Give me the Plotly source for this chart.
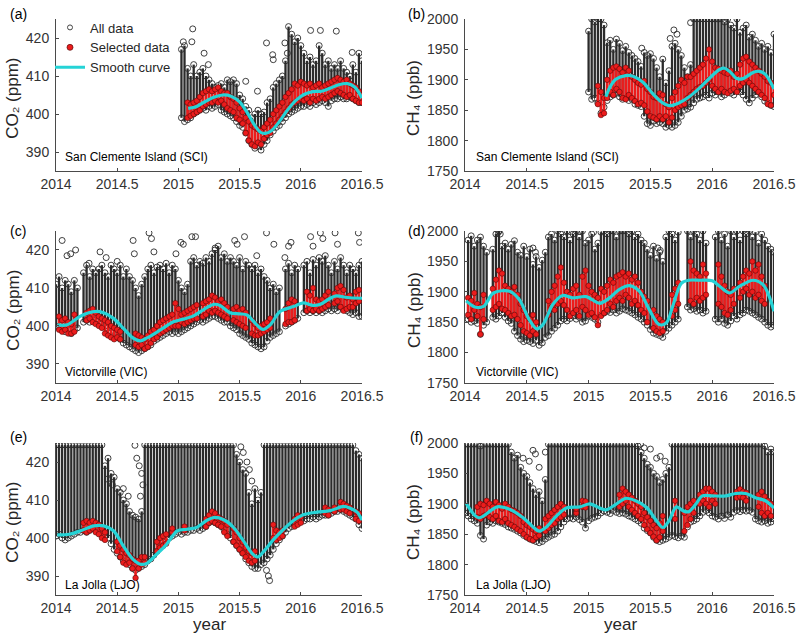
import plotly.graph_objects as go

N = None

# ---------------- shared time grid (decimal year, bins of 0.025 yr) ----------------
years = [2014.0, 2014.025, 2014.05, 2014.075, 2014.1, 2014.125, 2014.15, 2014.175, 2014.2, 2014.225,
         2014.25, 2014.275, 2014.3, 2014.325, 2014.35, 2014.375, 2014.4, 2014.425, 2014.45, 2014.475,
         2014.5, 2014.525, 2014.55, 2014.575, 2014.6, 2014.625, 2014.65, 2014.675, 2014.7, 2014.725,
         2014.75, 2014.775, 2014.8, 2014.825, 2014.85, 2014.875, 2014.9, 2014.925, 2014.95, 2014.975,
         2015.0, 2015.025, 2015.05, 2015.075, 2015.1, 2015.125, 2015.15, 2015.175, 2015.2, 2015.225,
         2015.25, 2015.275, 2015.3, 2015.325, 2015.35, 2015.375, 2015.4, 2015.425, 2015.45, 2015.475,
         2015.5, 2015.525, 2015.55, 2015.575, 2015.6, 2015.625, 2015.65, 2015.675, 2015.7, 2015.725,
         2015.75, 2015.775, 2015.8, 2015.825, 2015.85, 2015.875, 2015.9, 2015.925, 2015.95, 2015.975,
         2016.0, 2016.025, 2016.05, 2016.075, 2016.1, 2016.125, 2016.15, 2016.175, 2016.2, 2016.225,
         2016.25, 2016.275, 2016.3, 2016.325, 2016.35, 2016.375, 2016.4, 2016.425, 2016.45, 2016.475,
         2016.5]

x_ticks = [2014, 2014.5, 2015, 2015.5, 2016, 2016.5]
x_ticktext = ["2014", "2014.5", "2015", "2015.5", "2016", "2016.5"]
co2_ticks = [390, 400, 410, 420]
ch4_ticks = [1750, 1800, 1850, 1900, 1950, 2000]

# ================= (a) CO2, San Clemente Island =================
a_hi = [N, N, N, N, N, N, N, N, N, N,
        N, N, N, N, N, N, N, N, N, N,
        N, N, N, N, N, N, N, N, N, N,
        N, N, N, N, N, N, N, N, N, N,
        N, 417, 418, 412, 410, 413, 410, 411, 412, 410,
        409, 408, 407, 407.5, 408, 407, 409, 408.5, 409, 408,
        405, 404, 402, 401, 399, 400, 401, 400, 400.5, 403,
        404, 407, 408, 409, 410, 414, 423, 421, 419, 420,
        418, 416, 414, 415, 413, 414, 418, 416, 413, 414,
        412, 413, 412, 414, 412, 411, 410, 413, 411, 416,
        414]
a_lo = [N, N, N, N, N, N, N, N, N, N,
        N, N, N, N, N, N, N, N, N, N,
        N, N, N, N, N, N, N, N, N, N,
        N, N, N, N, N, N, N, N, N, N,
        N, 399, 398, 398.5, 399, 400, 400.5, 401, 401.5, 401,
        402, 401.5, 402, 402.5, 401, 400.5, 400, 399.5, 399, 398,
        397, 396.5, 395, 393, 392, 391, 391.5, 390.5, 392, 393,
        394.5, 395.5, 396.5, 397, 398, 399, 400, 400.5, 401, 401.5,
        402, 402, 402.5, 402, 403, 402.5, 403, 403.5, 403, 402,
        403.5, 404, 404, 404.5, 404, 404, 404.5, 404, 403.5, 403,
        403]
a_sel_lo = [N, N, N, N, N, N, N, N, N, N,
            N, N, N, N, N, N, N, N, N, N,
            N, N, N, N, N, N, N, N, N, N,
            N, N, N, N, N, N, N, N, N, N,
            N, N, N, 399, 399.5, 400, 400.5, 401, 402, 402.5,
            403, 403, 403.5, 403, 403.5, 402.5, 401.5, 401, 400.5, 399,
            398.5, 397.5, 395, 393, 392, 391.5, 392.5, 392, 393.5, 394.5,
            395, 396.5, 397.5, 398.5, 399.5, 400.5, 401.5, 402.5, 403, 403.5,
            404, 403.5, 404, 403, 404, 403.5, 404, 404.5, 404, 404.5,
            405, 405.5, 406, 405.5, 405, 404.5, 405, 404, 403.5, 403,
            403]
a_sel_hi = [N, N, N, N, N, N, N, N, N, N,
            N, N, N, N, N, N, N, N, N, N,
            N, N, N, N, N, N, N, N, N, N,
            N, N, N, N, N, N, N, N, N, N,
            N, N, N, 403, 402.5, 403, 403.5, 404.5, 405.5, 406,
            406.5, 406, 406.5, 407, 406, 405.5, 405.5, 404.5, 404, 403,
            401.5, 400.5, 399, 398, 397, 396.5, 396, 395.5, 396.5, 397.5,
            398.5, 400, 401, 402, 403, 404.5, 405.5, 406.5, 408, 407.5,
            408.5, 408, 407.5, 408, 407, 407.5, 408, 407, 407.5, 408,
            408.5, 409, 409.5, 409, 408.5, 409, 408, 407.5, 407, 406,
            405]
a_out_t = [2015.04, 2015.117, 2015.11, 2015.21, 2015.245, 2015.55, 2015.646, 2015.72,
           2015.77, 2015.775, 2015.87, 2015.89, 2016.08, 2016.16, 2016.29, 2016.42]
a_out_y = [419, 422.4, 419, 416, 413, 408.6, 406, 418.7,
           415.6, 414.3, 418.7, 416, 422, 422, 421.8, 416.2]
a_curve_t = [2015.08, 2015.15, 2015.22, 2015.29, 2015.36, 2015.43, 2015.50, 2015.56, 2015.62,
             2015.67, 2015.71, 2015.76, 2015.82, 2015.89, 2015.96, 2016.03, 2016.10, 2016.17,
             2016.24, 2016.31, 2016.38, 2016.44, 2016.50]
a_curve_y = [401.5, 402.0, 403.3, 404.4, 405.0, 404.7, 403.2, 400.5, 397.2,
             395.2, 394.9, 395.6, 397.8, 401.0, 403.6, 405.2, 405.9, 406.0,
             406.8, 407.7, 408.0, 407.1, 404.2]

# ================= (b) CH4, San Clemente Island =================
b_hi = [N, N, N, N, N, N, N, N, N, N,
        N, N, N, N, N, N, N, N, N, N,
        N, N, N, N, N, N, N, N, N, N,
        N, N, N, N, N, N, N, N, N, N,
        1980, 2000, 1995, 2000, 2000, 1990, 1961, 1965, 1950, 1967,
        1960, 1948, 1955, 1945, 1940, 1935, 1930, 1922, 1945, 1940,
        1943, 1935, 1920, 1905, 1934, 1895, 1915, 1955, 1960, 1950,
        1940, 1920, 1905, 1925, 2000, 2000, 2000, 2000, 2000, 2000,
        2000, 2000, 2000, 2000, 1995, 2000, 1990, 1985, 2000, 1978,
        1985, 1990, 1970, 1975, 1965, 1955, 1960, 1950, 1955, 1945,
        1975]
b_lo = [N, N, N, N, N, N, N, N, N, N,
        N, N, N, N, N, N, N, N, N, N,
        N, N, N, N, N, N, N, N, N, N,
        N, N, N, N, N, N, N, N, N, N,
        1880, 1868, 1870, 1862, 1845, 1855, 1866, 1872, 1875, 1878,
        1872, 1868, 1870, 1866, 1868, 1860, 1858, 1856, 1840, 1828,
        1825, 1832, 1828, 1830, 1828, 1822, 1825, 1822, 1825, 1830,
        1840, 1850, 1852, 1855, 1862, 1868, 1870, 1872, 1875, 1870,
        1878, 1875, 1880, 1872, 1875, 1880, 1878, 1875, 1882, 1880,
        1875, 1868, 1862, 1870, 1875, 1880, 1872, 1865, 1862, 1858,
        1856]
b_sel_lo = [N, N, N, N, N, N, N, N, N, N,
            N, N, N, N, N, N, N, N, N, N,
            N, N, N, N, N, N, N, N, N, N,
            N, N, N, N, N, N, N, N, N, N,
            N, N, N, 1860, 1842, 1845, 1870, 1880, 1875, 1885,
            1880, 1870, 1868, 1875, 1870, 1865, 1860, 1862, 1858, 1848,
            1840, 1838, 1835, 1840, 1835, 1840, 1830, 1838, 1850, 1855,
            1858, 1860, 1870, 1875, 1880, 1885, 1888, 1890, 1895, 1900,
            1890, 1885, 1880, 1885, 1880, 1878, 1882, 1885, 1880, 1890,
            1895, 1900, 1895, 1890, 1885, 1880, 1875, 1870, 1860, 1858,
            1875]
b_sel_hi = [N, N, N, N, N, N, N, N, N, N,
            N, N, N, N, N, N, N, N, N, N,
            N, N, N, N, N, N, N, N, N, N,
            N, N, N, N, N, N, N, N, N, N,
            N, N, N, 1890, 1880, 1870, 1900, 1915, 1920, 1922,
            1918, 1912, 1920, 1915, 1905, 1900, 1895, 1892, 1898, 1885,
            1880, 1872, 1870, 1878, 1875, 1860, 1855, 1870, 1880, 1890,
            1900, 1895, 1905, 1905, 1910, 1915, 1920, 1925, 1935, 1950,
            1930, 1920, 1918, 1915, 1912, 1910, 1915, 1905, 1910, 1925,
            1935, 1938, 1930, 1925, 1920, 1915, 1910, 1905, 1898, 1895,
            1890]
b_out_t = [2015.43, 2015.66, 2015.69, 2015.715, 2015.825]
b_out_y = [1952, 1968, 1982, 1975, 1994]
b_curve_t = [2015.14, 2015.17, 2015.22, 2015.30, 2015.36, 2015.44, 2015.52, 2015.60, 2015.65,
             2015.73, 2015.82, 2015.90, 2015.98, 2016.06, 2016.10, 2016.14, 2016.20, 2016.25,
             2016.33, 2016.38, 2016.43, 2016.50]
b_curve_y = [1872, 1887, 1901, 1907, 1906, 1896, 1877, 1862, 1857.5,
             1862, 1873, 1887, 1903, 1917, 1919, 1914, 1902, 1902,
             1912, 1914, 1909, 1885]

# ================= (c) CO2, Victorville =================
c_hi = [411, 413, 410, 412, 411, 409, 412, 410, N, 414,
        416, 413, 415, 414, 415, 416, 414, 413, 416, 415,
        414, 416, 413, 415, 413, 412, 410, 408, 411, 413,
        415, 416, 414, 415.5, 416, 415, 416.5, 414, 416, 415,
        412, 410, 409, 411, 417, 418, 416, 417, 416.5, 418,
        417, 419, 420, 421, 418, 419, 417, 418, 417, 416,
        418, 415, 417, 416, 415, 416, 414, 415, 413, 412,
        410, 411, 409, 410, N, 415, 416.5, 414, 416, 415,
        N, 416, 417, 414, 417.5, 416, 418, 417, 418.5, 416,
        414, 417, 415, 418, 416, 414, 416, 415, 414, 416,
        417]
c_lo = [400, 399.5, 399, 398.5, 399, 398, 399, 399.5, N, 401,
        401.5, 401, 402, 401.5, 400.5, 401, 400, 399.5, 398.5, 397.5,
        397, 396.5, 395.5, 395, 394.5, 394, 393.5, 393, 393.5, 394,
        394.5, 395, 396, 396.5, 397, 397.5, 398, 398.5, 398, 398.5,
        398, 398.5, 399, 399.5, 400, 400.5, 401, 401.5, 401, 401.5,
        402, 402.5, 402.5, 402, 401.5, 401, 401, 400, 399.5, 399,
        398, 397.5, 397, 396.5, 395.5, 395, 394.5, 394, 394.5, 396,
        397, 397.5, 398, 398.5, N, 400, 400.5, 401, 401.5, 402,
        N, 403.5, 404, 403.5, 404, 403.5, 404, 403.5, 404, 404.5,
        404, 404.5, 404, 405, 404.5, 404, 403.5, 403, 403.5, 402.5,
        402.5]
c_sel_lo = [N, 399, 398.5, 399, 398, 398, 398.5, N, N, N,
            401.5, 402, 401, 400.5, 400, 399.5, 398, 397.5, 397, 396.5,
            397, 396.5, N, N, N, N, 395, 394.5, 395, 394,
            394.5, 395.5, 396.5, 397, 398, 398.5, 399, 399.5, 400, 400,
            400, 401, 400.5, 401, 401.5, 402, 402, N, 402.5, 403,
            404, 403.5, 404, 403.5, 403, 402.5, 402, N, 401.5, 401,
            400.5, 400, 399.5, N, 398, 397.5, 397.5, 398, 398.5, 399,
            399.5, N, N, N, N, 400.5, 401, 401, 401.5, N,
            N, N, 404, 404.5, 404, 404.5, 404, 404.5, 405, 405.5,
            N, 406, 406.5, 405, 404, 404.5, 405, 405, 406, 406.5,
            N]
c_sel_hi = [N, 402.5, 401.5, 402, 401, 400.5, 403, N, N, N,
            403.5, 404, 404.5, 403.5, 402.5, 402, 401.5, 401, 400, 399.5,
            399, 398.5, N, N, N, N, 398, 397.5, 397, 396.5,
            397.5, 398.5, 399, 400, 401, 401.5, 402, 402.5, 403, 406,
            404.5, 403, 403.5, 404, 404.5, 405, 405.5, N, 406, 406.5,
            407, 408, 407.5, 406.5, 407, 406, 405, N, 404.5, 405,
            404, 404.5, 403.5, N, 401.5, 400.5, 399.5, 400, 400.5, 401,
            402, N, N, N, N, 404.5, 406, 407, 406.5, N,
            N, N, 409, 408, 410, 407, 406.5, 407, 408, 409,
            N, 408.5, 410, 410.5, 409.5, 407.5, 408, 407, 409, 409.5,
            N]
c_out_t = [2014.05, 2014.09, 2014.12, 2014.16, 2014.27, 2014.36, 2014.41, 2014.50, 2014.63,
           2014.64, 2014.76, 2014.78, 2014.80, 2014.98, 2015.02, 2015.04, 2015.11, 2015.14,
           2015.30, 2015.46, 2015.48, 2015.54, 2015.64, 2015.72, 2015.78, 2015.87, 2015.90,
           2015.92, 2016.08, 2016.10, 2016.16, 2016.18, 2016.28, 2016.30, 2016.47, 2016.48]
c_out_y = [422.5, 418.5, 419, 420, 416.5, 419.5, 418, 417, 422.5,
           419, 424.5, 423, 419.5, 419, 422, 421.5, 423.5, 423.5,
           420.5, 422.5, 421.5, 423.5, 418.5, 424.5, 421.5, 418, 421,
           422, 423.5, 421, 424.5, 423, 424.5, 421.5, 424.5, 422]
c_curve_t = [2014.01, 2014.09, 2014.20, 2014.31, 2014.39, 2014.47, 2014.55, 2014.63, 2014.69,
             2014.74, 2014.85, 2014.96, 2015.04, 2015.12, 2015.20, 2015.29, 2015.34, 2015.42,
             2015.50, 2015.56, 2015.64, 2015.69, 2015.75, 2015.83, 2015.94, 2016.02, 2016.10,
             2016.16, 2016.24, 2016.29, 2016.38, 2016.50]
c_curve_y = [400.3, 400.3, 402.6, 403.8, 403.5, 402.0, 399.4, 396.8, 396.1,
             396.8, 398.9, 401.1, 401.8, 402.6, 404.2, 405.7, 405.4, 403.5,
             403.2, 402.9, 400.3, 399.1, 400.3, 403.8, 405.1, 406.1, 405.4,
             405.7, 407.3, 407.9, 407.5, 407.3]

# ================= (d) CH4, Victorville =================
d_hi = [N, 1985, 1992, 1975, 1985, 1990, 1975, 1965, N, 1970,
        1995, 2000, 1975, 1980, 1970, 1978, 1984, 1965, 1960, 1975,
        1958, 1970, 1945, 1958, 1940, 1952, 1965, 1990, 1995, 1985,
        2000, 1995, 1990, 2000, 1985, 1995, 2000, 1990, 2000, 1980,
        1985, 1995, 1970, 1980, 1998, 2000, 1995, 2000, 2000, 1990,
        2000, 2000, 2000, 1995, 2000, 1990, 1995, 1985, 1980, 1970,
        1960, 1975, 1955, 1965, 1950, 1990, 2000, 1995, 1985, 1998,
        N, N, 2000, 1990, 2000, 1995, 1985, 2000, 1980, N,
        N, 1990, 2000, 1985, 1995, 1975, 2000, 1990, 2000, 1985,
        2000, 1995, 2000, 1990, 1998, 1980, 1995, 1985, 1975, 1970,
        1965]
d_lo = [N, 1855, 1850, 1852, 1848, 1830, 1845, 1850, N, 1858,
        1855, 1860, 1865, 1858, 1852, 1848, 1835, 1828, 1822, 1818,
        1820, 1818, 1815, 1820, 1812, 1816, 1825, 1828, 1835, 1840,
        1845, 1852, 1855, 1852, 1856, 1860, 1855, 1858, 1850, 1852,
        1860, 1858, 1855, 1850, 1862, 1865, 1868, 1866, 1870, 1865,
        1868, 1872, 1870, 1868, 1865, 1862, 1858, 1855, 1850, 1845,
        1838, 1832, 1830, 1828, 1825, 1835, 1840, 1845, 1850, 1855,
        N, N, 1875, 1870, 1872, 1868, 1870, 1865, 1868, N,
        N, 1855, 1850, 1855, 1848, 1845, 1852, 1860, 1855, 1862,
        1865, 1870, 1868, 1865, 1862, 1858, 1855, 1850, 1845, 1842,
        1845]
d_sel_lo = [N, 1862, 1855, 1870, 1860, 1830, 1855, N, N, 1870,
            1875, 1880, 1872, 1870, 1865, 1860, 1862, 1855, 1845, 1835,
            1832, 1828, 1835, 1830, N, N, N, 1862, 1875, 1870,
            1880, 1885, 1878, 1870, 1860, 1865, 1870, 1860, 1875, 1870,
            1862, 1865, 1858, 1845, 1860, 1865, 1870, 1880, 1875, 1885,
            1890, 1885, 1895, 1890, 1880, 1885, 1878, 1870, 1865, 1850,
            N, 1840, 1835, 1832, 1835, N, N, 1860, 1870, 1880,
            N, N, N, 1885, 1880, 1890, 1885, 1890, 1895, N,
            N, N, 1880, 1875, 1865, 1862, 1870, 1880, N, 1890,
            1900, 1905, 1895, 1900, 1890, 1895, 1885, 1880, N, N,
            N]
d_sel_hi = [N, 1890, 1885, 1898, 1880, 1875, 1895, N, N, 1905,
            1920, 1935, 1930, 1910, 1905, 1900, 1908, 1895, 1880, 1870,
            1860, 1855, 1862, 1850, N, N, N, 1885, 1900, 1910,
            1925, 1940, 1915, 1900, 1895, 1905, 1910, 1895, 1925, 1935,
            1910, 1900, 1895, 1890, 1905, 1900, 1910, 1920, 1915, 1925,
            1928, 1932, 1925, 1930, 1920, 1925, 1915, 1900, 1892, 1885,
            N, 1870, 1860, 1855, 1850, N, N, 1895, 1905, 1915,
            N, N, N, 1950, 1935, 1930, 1925, 1945, 1930, N,
            N, N, 1945, 1925, 1910, 1900, 1895, 1905, N, 1915,
            1925, 1935, 1930, 1950, 1935, 1945, 1925, 1910, N, N,
            N]
d_out_t = [2014.27, 2014.285, 2014.55, 2014.57, 2014.85, 2014.93, 2015.04, 2015.56, 2015.58]
d_out_y = [1998, 1995, 1972, 1965, 1999, 1999, 1998, 1972, 1968]
d_curve_t = [2014.01, 2014.08, 2014.15, 2014.23, 2014.36, 2014.44, 2014.52, 2014.58, 2014.63,
             2014.71, 2014.79, 2014.87, 2014.98, 2015.09, 2015.17, 2015.25, 2015.33, 2015.41,
             2015.49, 2015.57, 2015.63, 2015.68, 2015.75, 2015.81, 2015.90, 2016.00, 2016.06,
             2016.14, 2016.22, 2016.33, 2016.41, 2016.46, 2016.50]
d_curve_y = [1885, 1875, 1876, 1898, 1901, 1887, 1854, 1839, 1846,
             1879, 1894, 1890, 1892, 1881, 1890, 1904, 1910, 1901,
             1871, 1846, 1849, 1876, 1914, 1919, 1919, 1918, 1909,
             1898, 1909, 1919, 1912, 1893, 1868]

# ================= (e) CO2, La Jolla =================
e_hi = [424.5, 424.5, 424.5, 424.5, 424.5, 424.5, 424.5, 424.5, 424.5, 424.5,
        424.5, 424.5, 424.5, 424.5, 424.5, 424.5, 419, 421, 417, 416,
        413, 412, 410, 409, 407, 406, 405.5, 405, 407, 424.5,
        424.5, 424.5, 424.5, 424.5, 424.5, 424.5, 424.5, 424.5, 424.5, 424.5,
        424.5, 424.5, 424.5, 424.5, 424.5, 424.5, 424.5, 424.5, 424.5, 424.5,
        424.5, 424.5, 424.5, 424.5, 424.5, 424.5, 424.5, 424.5, 424.5, 422,
        420, 418, 417, 412, 409, 413, 410, 412, 424.5, 424.5,
        424.5, 424.5, 424.5, 424.5, 424.5, 424.5, 424.5, 424.5, 424.5, 424.5,
        424.5, 424.5, 424.5, 424.5, 424.5, 424.5, 424.5, 424.5, 424.5, 424.5,
        424.5, 424.5, 424.5, 424.5, 424.5, 424.5, 424.5, 424.5, 423, 422,
        421]
e_lo = [400.5, 401, 400, 399.5, 400, 400.5, 401, 401.5, 401.5, 402,
        401.5, 402, 402.5, 402, 401.5, 401, 400.5, 400, 398.5, 397,
        396, 395, 394, 393.5, 393, 392, 391.5, 392, 392.5, 393,
        394, 394.5, 395.5, 396.5, 397.5, 398, 399, 400, 400.5, 401,
        401.5, 401, 401.5, 401.5, 402, 402, 402.5, 402, 402.5, 403,
        404, 404.5, 404, 403.5, 403, 402, 401, 400, 399, 398,
        397, 396, 394.5, 393.5, 392.5, 392, 392, 393, 393.5, 394.5,
        395.5, 397, 398.5, 399.5, 400.5, 401.5, 402.5, 403, 403.5, 404,
        404.5, 404.5, 405, 405, 405.5, 405, 405.5, 406, 406, 406,
        406.5, 407, 407, 407.5, 407, 406.5, 406, 405.5, 405, 403.5,
        402.5]
e_sel_lo = [N, N, N, N, N, N, N, N, N, 402,
            401.5, 402, 402.5, 401.5, 401, 400, 399.5, N, N, N,
            396.5, 395, 393.5, 393, 393.5, 392, 389.5, 392, 393, 393.5,
            N, N, N, 396.5, 397.5, 398, 398.5, N, 401.5, N,
            N, N, 402, N, N, N, N, N, N, 403,
            404, 404.5, 404, 403.5, 403, 401.5, 400.5, N, 399, 398,
            397, 396, 395, 394, 393.5, 394, N, N, N, N,
            N, 400, 399.5, 400, 400.5, N, N, N, 403, 403.5,
            404, N, N, N, N, N, N, N, 406.5, 406,
            N, 407, N, 407.5, 407.5, 407, 406.5, N, 405, 404.5,
            N]
e_sel_hi = [N, N, N, N, N, N, N, N, N, 404,
            404.5, 404, 404.5, 404, 403.5, 402.5, 401.5, N, N, N,
            399, 398, 397, 396, 395.5, 394.5, 394, 394, 395, 395,
            N, N, N, 399, 400, 400.5, 401, N, 402.5, N,
            N, N, 403, N, N, N, N, N, N, 405,
            406, 407, 406.5, 405.5, 405, 404.5, 403.5, N, 402.5, 401.5,
            400, 399, 397.5, 396.5, 396, 396.5, N, N, N, N,
            N, 403.5, 402, 401.5, 402, N, N, N, 405, 406,
            405.5, N, N, N, N, N, N, N, 408, 407.5,
            N, 408, N, 409.5, 409, 408.5, 408, N, 407, 406.5,
            N]
e_out_t = [2014.42, 2014.46, 2014.55, 2014.59, 2014.645, 2014.66, 2014.68, 2014.70, 2014.71,
           2014.69, 2015.51, 2015.53, 2015.56, 2015.58, 2015.60, 2015.72, 2015.735, 2015.745]
e_out_y = [415.5, 414, 413, 411, 424.4, 421, 419, 417, 414,
           411, 424, 422.5, 420, 418, 415, 391.5, 390, 388.8]
e_curve_t = [2014.01, 2014.11, 2014.20, 2014.31, 2014.39, 2014.47, 2014.55, 2014.63, 2014.69,
             2014.74, 2014.82, 2014.90, 2014.99, 2015.07, 2015.15, 2015.23, 2015.29, 2015.37,
             2015.45, 2015.53, 2015.61, 2015.65, 2015.69, 2015.78, 2015.86, 2015.94, 2016.02,
             2016.13, 2016.24, 2016.35, 2016.40, 2016.46, 2016.50]
e_curve_y = [400.8, 401.0, 401.9, 403.2, 403.2, 401.9, 397.9, 394.4, 393.1,
             393.3, 395.7, 398.2, 401.9, 402.3, 402.8, 404.6, 405.4, 404.8,
             402.8, 399.3, 395.7, 395.0, 396.2, 399.7, 402.3, 404.6, 406.1,
             406.8, 407.2, 408.3, 407.9, 406.8, 404.7]

# ================= (f) CH4, La Jolla =================
f_hi = [1998, 1998, 1998, 1998, 1998, 1995, 1998, 1998, 1998, 1998,
        1998, 1998, 1998, 1998, 1998, 1985, 1975, 1980, 1960, 1950,
        1945, 1935, 1925, 1915, 1920, 1905, 1940, 1998, 1998, 1998,
        1998, 1998, 1998, 1998, 1998, 1998, 1998, 1998, 1998, 1998,
        1998, 1998, 1998, 1998, 1998, 1998, 1998, 1998, 1998, 1998,
        1998, 1998, 1998, 1998, 1998, 1998, 1995, 1985, 1975, 1965,
        1960, 1950, 1945, 1935, 1940, 1950, 1960, 1998, 1998, 1998,
        1998, 1998, 1998, 1998, 1998, 1998, 1998, 1998, 1998, 1998,
        1998, 1998, 1998, 1998, 1998, 1998, 1998, 1998, 1998, 1998,
        1998, 1998, 1998, 1998, 1998, 1998, 1998, 1995, 1985, 1990,
        1985]
f_lo = [1885, 1880, 1875, 1872, 1868, 1848, 1842, 1865, 1870, 1868,
        1872, 1870, 1868, 1866, 1862, 1860, 1858, 1855, 1852, 1848,
        1845, 1842, 1840, 1838, 1836, 1838, 1842, 1845, 1848, 1850,
        1855, 1862, 1870, 1875, 1877, 1875, 1878, 1874, 1870, 1860,
        1872, 1876, 1878, 1880, 1885, 1888, 1886, 1884, 1889, 1886,
        1884, 1885, 1883, 1880, 1878, 1875, 1872, 1868, 1860, 1856,
        1852, 1845, 1840, 1838, 1840, 1842, 1845, 1848, 1846, 1844,
        1847, 1845, 1862, 1870, 1872, 1875, 1880, 1886, 1889, 1885,
        1880, 1878, 1875, 1880, 1876, 1882, 1878, 1886, 1889, 1887,
        1890, 1888, 1889, 1886, 1875, 1872, 1870, 1872, 1868, 1870,
        1875]
f_sel_lo = [N, N, N, N, 1878, 1875, 1880, 1882, 1878, 1875,
            1880, 1872, 1870, 1875, 1868, 1865, 1862, 1858, 1855, 1850,
            1845, 1842, 1840, 1845, 1848, N, 1855, 1860, 1865, 1868,
            1875, 1878, 1882, N, N, N, 1885, N, 1895, 1894,
            N, N, N, N, N, N, N, N, N, N,
            1895, 1900, 1905, 1895, 1890, 1885, 1880, 1875, 1865, 1858,
            1852, 1846, 1840, 1845, 1855, N, N, N, 1875, N,
            N, 1855, 1865, 1875, 1885, N, 1900, 1905, 1900, 1895,
            1905, 1900, N, N, N, N, N, N, 1910, 1912,
            1910, 1905, N, N, N, 1895, 1885, 1880, 1885, 1880,
            N]
f_sel_hi = [N, N, N, N, 1895, 1900, 1898, 1905, 1900, 1895,
            1903, 1898, 1892, 1900, 1895, 1890, 1888, 1885, 1880, 1870,
            1865, 1862, 1858, 1855, 1860, N, 1875, 1880, 1885, 1890,
            1895, 1900, 1895, N, N, N, 1892, N, 1905, 1904,
            N, N, N, N, N, N, N, N, N, N,
            1915, 1925, 1920, 1915, 1910, 1905, 1900, 1895, 1885, 1878,
            1872, 1865, 1860, 1868, 1880, N, N, N, 1905, N,
            N, 1885, 1895, 1900, 1905, N, 1915, 1920, 1925, 1925,
            1920, 1915, N, N, N, N, N, N, 1920, 1924,
            1920, 1918, N, N, N, 1915, 1920, 1912, 1905, 1900,
            N]
f_out_t = [2014.47, 2014.52, 2014.55, 2014.57, 2014.60, 2014.65, 2015.42, 2015.45, 2015.50,
           2015.55, 2015.58, 2015.62]
f_out_y = [1975, 1970, 1988, 1982, 1960, 1985, 1998, 1992, 1990,
           1975, 1978, 1970]
f_curve_t = [2014.01, 2014.11, 2014.26, 2014.36, 2014.47, 2014.55, 2014.60, 2014.66, 2014.74,
             2014.82, 2014.93, 2015.01, 2015.09, 2015.14, 2015.22, 2015.30, 2015.38, 2015.47,
             2015.55, 2015.60, 2015.65, 2015.71, 2015.77, 2015.81, 2015.87, 2015.92, 2016.00,
             2016.11, 2016.19, 2016.27, 2016.35, 2016.43, 2016.50]
f_curve_y = [1901, 1877, 1895, 1891, 1877, 1862, 1855, 1862, 1880,
             1893, 1895, 1900, 1893, 1890, 1899, 1909, 1905, 1894,
             1872, 1861, 1872, 1895, 1888, 1887, 1900, 1913, 1913,
             1913, 1917, 1917, 1910, 1905, 1893]

stations = ["San Clemente Island (SCI)", "San Clemente Island (SCI)",
            "Victorville (VIC)", "Victorville (VIC)",
            "La Jolla (LJO)", "La Jolla (LJO)"]
letters = ["(a)", "(b)", "(c)", "(d)", "(e)", "(f)"]

# ---------------- figure ----------------
FONT = "Liberation Sans, Arial, Helvetica, DejaVu Sans, sans-serif"
CYAN = "#25d3d6"
RED = "#ec1c1c"
DARK = "#2b2b2b"
AXC = "#4a4a4a"

panels = [
    (a_hi, a_lo, a_sel_lo, a_sel_hi, a_out_t, a_out_y, a_curve_t, a_curve_y, "co2"),
    (b_hi, b_lo, b_sel_lo, b_sel_hi, b_out_t, b_out_y, b_curve_t, b_curve_y, "ch4"),
    (c_hi, c_lo, c_sel_lo, c_sel_hi, c_out_t, c_out_y, c_curve_t, c_curve_y, "co2"),
    (d_hi, d_lo, d_sel_lo, d_sel_hi, d_out_t, d_out_y, d_curve_t, d_curve_y, "ch4"),
    (e_hi, e_lo, e_sel_lo, e_sel_hi, e_out_t, e_out_y, e_curve_t, e_curve_y, "co2"),
    (f_hi, f_lo, f_sel_lo, f_sel_hi, f_out_t, f_out_y, f_curve_t, f_curve_y, "ch4"),
]


def columns(t, lo, hi):
    xs, ys = [], []
    for x, a, b in zip(t, lo, hi):
        if a is None or b is None:
            continue
        xs += [x, x, None]
        ys += [a, b, None]
    return xs, ys


col_dom = [[0.07, 0.4525], [0.58125, 0.9675]]
row_dom = [[0.7328, 0.9703], [0.4016, 0.6391], [0.0703, 0.3078]]

fig = go.Figure()
layout = dict(
    template="none",
    width=800, height=640,
    margin=dict(l=0, r=0, t=0, b=0, autoexpand=False),
    paper_bgcolor="white", plot_bgcolor="white",
    font=dict(family=FONT, size=14, color="#262626"),
    showlegend=True,
    legend=dict(x=0.0625, y=0.9805, xanchor="left", yanchor="top",
                bgcolor="rgba(0,0,0,0)", borderwidth=0,
                font=dict(family=FONT, size=13, color="#262626"),
                tracegroupgap=0, itemwidth=30),
)
annotations = []

for k, (hi, lo, slo, shi, ot, oy, ct, cy, gas) in enumerate(panels):
    idx = k + 1
    xr = "x" if idx == 1 else f"x{idx}"
    yr = "y" if idx == 1 else f"y{idx}"
    col = k % 2
    row = k // 2

    ax_x, ax_y = columns(years, lo, hi)
    fig.add_trace(go.Scatter(
        x=ax_x, y=ax_y, mode="lines+markers", xaxis=xr, yaxis=yr,
        line=dict(color=DARK, width=2.3),
        marker=dict(symbol="circle-open", size=6, color=DARK, line=dict(width=0.9)),
        showlegend=False, hoverinfo="skip"))
    fig.add_trace(go.Scatter(
        x=ot, y=oy, mode="markers", xaxis=xr, yaxis=yr,
        marker=dict(symbol="circle-open", size=6, color=DARK, line=dict(width=0.9)),
        showlegend=False, hoverinfo="skip"))
    sx, sy = columns(years, slo, shi)
    fig.add_trace(go.Scatter(
        x=sx, y=sy, mode="lines+markers", xaxis=xr, yaxis=yr,
        line=dict(color=RED, width=2.6),
        marker=dict(symbol="circle", size=5.5, color=RED, line=dict(color="#5a0808", width=0.6)),
        showlegend=False, hoverinfo="skip"))
    fig.add_trace(go.Scatter(
        x=ct, y=cy, mode="lines", xaxis=xr, yaxis=yr,
        line=dict(color=CYAN, width=3.2, shape="spline", smoothing=0.9),
        showlegend=False, hoverinfo="skip"))

    axname_x = "xaxis" if idx == 1 else f"xaxis{idx}"
    axname_y = "yaxis" if idx == 1 else f"yaxis{idx}"
    layout[axname_x] = dict(
        domain=col_dom[col], anchor=yr, range=[2014, 2016.5], automargin=False,
        tickmode="array", tickvals=x_ticks, ticktext=x_ticktext,
        showline=True, linecolor=AXC, linewidth=1, ticks="inside", ticklen=3,
        tickcolor=AXC, showgrid=False, zeroline=False,
        tickfont=dict(family=FONT, size=14, color="#333333"))
    if gas == "co2":
        yrange, ytv = [385, 425], co2_ticks
    else:
        yrange, ytv = [1750, 2000], ch4_ticks
    layout[axname_y] = dict(
        domain=row_dom[row], anchor=xr, range=yrange, automargin=False,
        tickmode="array", tickvals=ytv, ticktext=[str(v) for v in ytv],
        showline=True, linecolor=AXC, linewidth=1, ticks="inside", ticklen=3,
        tickcolor=AXC, showgrid=False, zeroline=False, ticklabelstandoff=3,
        tickfont=dict(family=FONT, size=14, color="#333333"))

    # panel letter
    lx = [0.0225, 0.52][col]
    ly = [0.978, 0.639, 0.317][row]
    annotations.append(dict(text=letters[k], x=lx, y=ly, xref="paper", yref="paper",
                            xanchor="center", yanchor="middle", showarrow=False,
                            font=dict(family=FONT, size=14, color="black")))
    # station label
    sx0 = [0.07875, 0.5925][col]
    sy0 = [0.7547, 0.4188, 0.0859][row]
    annotations.append(dict(text=stations[k], x=sx0, y=sy0, xref="paper", yref="paper",
                            xanchor="left", yanchor="middle", showarrow=False,
                            font=dict(family=FONT, size=12, color="black")))
    # y title (unicode subscripts)
    tx = [0.016, 0.5175][col]
    ty = [0.847, 0.5156, 0.1844][row]
    ttl = "CO\u2082 (ppm)" if gas == "co2" else "CH\u2084 (ppb)"
    annotations.append(dict(text=ttl, x=tx, y=ty, xref="paper", yref="paper",
                            xanchor="center", yanchor="middle", textangle=-90, showarrow=False,
                            font=dict(family=FONT, size=17, color="#262626")))

for xx in (0.26125, 0.775):
    annotations.append(dict(text="year", x=xx, y=0.025, xref="paper", yref="paper",
                            xanchor="center", yanchor="middle", showarrow=False,
                            font=dict(family=FONT, size=17, color="#262626")))

# legend entries (panel a)
fig.add_trace(go.Scatter(x=[None], y=[None], mode="markers", name="All data",
                         marker=dict(symbol="circle-open", size=5, color="#444", line=dict(width=1))))
fig.add_trace(go.Scatter(x=[None], y=[None], mode="markers", name="Selected data",
                         marker=dict(symbol="circle", size=6, color=RED, line=dict(color="#5a0808", width=0.7))))
fig.add_trace(go.Scatter(x=[None], y=[None], mode="lines", name="Smooth curve",
                         line=dict(color=CYAN, width=3)))

layout["annotations"] = annotations
fig.update_layout(**layout)
# remove the default 8px page margin so the 800x640 figure fills the window exactly
fig.write_html("out.html",
               config={"displayModeBar": False, "staticPlot": True},
               post_script="document.body.style.margin='0px';document.body.style.padding='0px';")
